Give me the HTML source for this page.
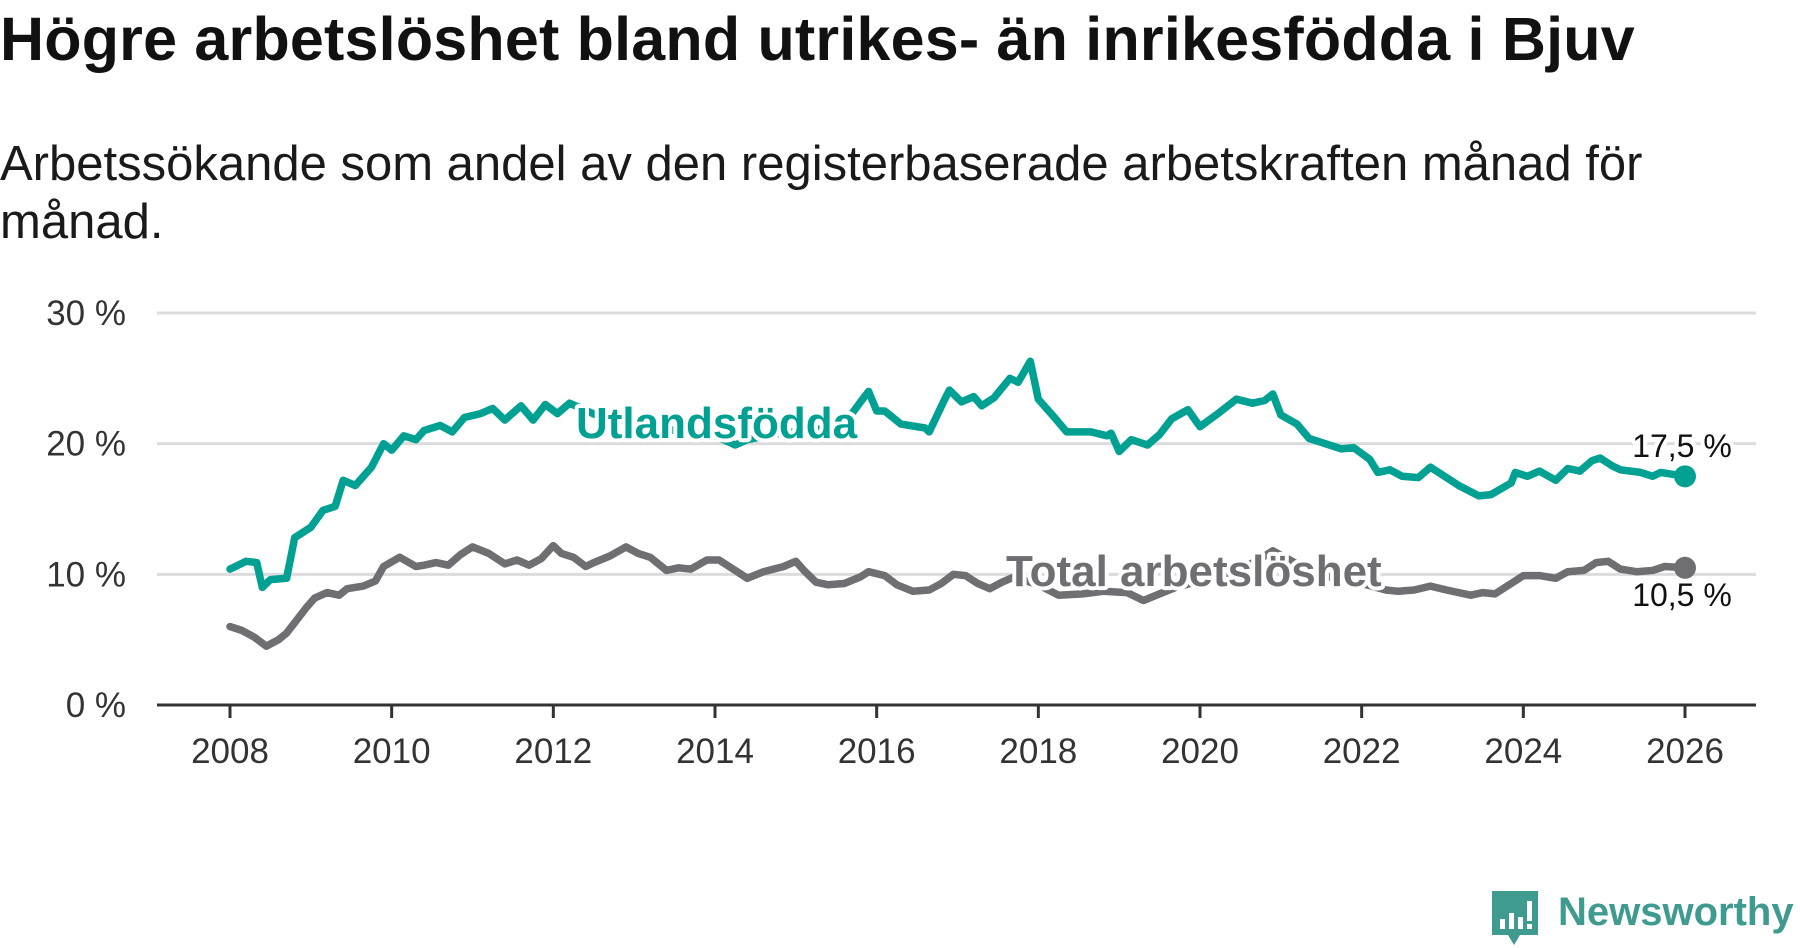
<!DOCTYPE html>
<html><head><meta charset="utf-8">
<style>
html,body{margin:0;padding:0;background:#fff;}
body{width:1800px;height:948px;overflow:hidden;position:relative;font-family:"Liberation Sans",sans-serif;color:#111;}
#title{position:absolute;left:0;top:4px;font-size:61px;font-weight:bold;white-space:nowrap;letter-spacing:0.2px;}
#subtitle{position:absolute;left:0;top:135px;font-size:49px;line-height:58px;width:1700px;color:#1a1a1a;}
svg{position:absolute;left:0;top:0;}
</style></head><body>
<div id="title">Högre arbetslöshet bland utrikes- än inrikesfödda i Bjuv</div>
<div id="subtitle">Arbetssökande som andel av den registerbaserade arbetskraften månad för månad.</div>
<svg id="chart" width="1800" height="948"></svg>
<script>
const foreignYears=[2008.0,2008.2,2008.33,2008.4,2008.5,2008.7,2008.8,2009.0,2009.15,2009.3,2009.4,2009.55,2009.75,2009.9,2010.0,2010.15,2010.3,2010.4,2010.6,2010.75,2010.9,2011.1,2011.25,2011.4,2011.6,2011.75,2011.9,2012.05,2012.2,2012.6,2013.0,2013.5,2014.0,2014.25,2014.4,2014.8,2015.2,2015.6,2015.8,2015.9,2016.0,2016.1,2016.3,2016.6,2016.65,2016.85,2016.9,2017.05,2017.2,2017.3,2017.45,2017.65,2017.75,2017.9,2018.0,2018.2,2018.35,2018.65,2018.85,2018.9,2019.0,2019.15,2019.35,2019.5,2019.65,2019.85,2020.0,2020.2,2020.45,2020.65,2020.8,2020.9,2021.0,2021.2,2021.35,2021.55,2021.75,2021.9,2022.1,2022.2,2022.35,2022.5,2022.7,2022.85,2022.95,2023.2,2023.45,2023.6,2023.85,2023.9,2024.05,2024.2,2024.4,2024.55,2024.7,2024.85,2024.95,2025.1,2025.2,2025.45,2025.6,2025.7,2026.0];
const foreignValues=[10.4,11.0,10.9,9.0,9.6,9.7,12.8,13.6,14.9,15.2,17.2,16.8,18.2,20.0,19.5,20.6,20.3,21.0,21.4,20.9,22.0,22.3,22.7,21.8,22.9,21.8,23.0,22.3,23.1,22.0,21.6,21.0,20.6,19.9,20.3,20.8,21.0,21.5,23.2,24.0,22.5,22.5,21.5,21.2,20.9,23.5,24.1,23.2,23.6,22.9,23.5,25.0,24.7,26.3,23.4,22.0,20.9,20.9,20.6,20.8,19.4,20.3,19.9,20.7,21.9,22.6,21.3,22.2,23.4,23.1,23.3,23.8,22.2,21.5,20.4,20.0,19.6,19.7,18.8,17.8,18.0,17.5,17.4,18.2,17.8,16.8,16.0,16.1,17.0,17.8,17.5,17.9,17.2,18.1,17.9,18.7,18.9,18.3,18.0,17.8,17.5,17.8,17.5];
const totalYears=[2008.0,2008.15,2008.3,2008.45,2008.6,2008.7,2008.8,2008.95,2009.05,2009.2,2009.35,2009.45,2009.65,2009.8,2009.9,2010.1,2010.3,2010.4,2010.55,2010.7,2010.85,2011.0,2011.2,2011.4,2011.55,2011.7,2011.85,2012.0,2012.1,2012.25,2012.4,2012.5,2012.7,2012.9,2013.05,2013.2,2013.4,2013.55,2013.7,2013.9,2014.05,2014.25,2014.4,2014.6,2014.85,2015.0,2015.1,2015.25,2015.4,2015.6,2015.8,2015.9,2016.1,2016.25,2016.45,2016.65,2016.8,2016.95,2017.1,2017.25,2017.4,2017.55,2017.7,2018.0,2018.25,2018.55,2018.8,2019.1,2019.3,2019.5,2019.7,2020.0,2020.3,2020.7,2020.9,2021.2,2021.6,2022.0,2022.3,2022.45,2022.65,2022.85,2023.05,2023.35,2023.5,2023.65,2023.85,2024.0,2024.2,2024.4,2024.55,2024.75,2024.9,2025.05,2025.2,2025.4,2025.6,2025.75,2026.0];
const totalValues=[6.0,5.7,5.2,4.5,5.0,5.5,6.3,7.5,8.2,8.6,8.4,8.9,9.1,9.5,10.6,11.3,10.6,10.7,10.9,10.7,11.5,12.1,11.6,10.8,11.1,10.7,11.2,12.2,11.6,11.3,10.6,10.9,11.4,12.1,11.6,11.3,10.3,10.5,10.4,11.1,11.1,10.3,9.7,10.2,10.6,11.0,10.3,9.4,9.2,9.3,9.8,10.2,9.9,9.2,8.7,8.8,9.3,10.0,9.9,9.3,8.9,9.4,9.8,9.2,8.4,8.5,8.7,8.6,8.0,8.5,9.0,9.5,10.0,11.0,11.8,10.8,9.8,9.3,8.8,8.7,8.8,9.1,8.8,8.4,8.6,8.5,9.3,9.9,9.9,9.7,10.2,10.3,10.9,11.0,10.4,10.2,10.3,10.6,10.5];
const yTicks=[0,10,20,30];
const yTickLabels=["0 %","10 %","20 %","30 %"];
const xTicks=[2008,2010,2012,2014,2016,2018,2020,2022,2024,2026];
const endLabels=["17,5 %","10,5 %"];

const NS="http://www.w3.org/2000/svg";
const svg=document.getElementById('chart');
const X0=157,X1=1756,Y0=705,Y30=313;
const xs=y=>230+(y-2008)*(1685-230)/18;
const ys=v=>Y0-(v/30)*(Y0-Y30);
function mk(tag,attrs){const e=document.createElementNS(NS,tag);for(const k in attrs)e.setAttribute(k,attrs[k]);svg.appendChild(e);return e;}

yTicks.forEach((t,i)=>{
  if(t>0){const g=mk('line',{x1:X0,x2:X1,y1:ys(t),y2:ys(t),stroke:'#dcdcdc','stroke-width':3});
  
  }
  const l=mk('text',{x:126,y:ys(t)+12,'text-anchor':'end','font-size':35,fill:'#333','font-family':'Liberation Sans, sans-serif'});
  l.textContent=yTickLabels[i];
  
  
});
const ax=mk('line',{x1:X0,x2:X1,y1:Y0,y2:Y0,stroke:'#333','stroke-width':3});


xTicks.forEach(t=>{
  const tk=mk('line',{x1:xs(t),x2:xs(t),y1:Y0,y2:Y0+13,stroke:'#333','stroke-width':3});
  
  
  const l=mk('text',{x:xs(t),y:763,'text-anchor':'middle','font-size':35,fill:'#333','font-family':'Liberation Sans, sans-serif'});
  l.textContent=t;
  
  
});
function line(yrs,vals,color,name){
  const d=yrs.map((y,i)=>(i?'L':'M')+xs(y).toFixed(1)+','+ys(vals[i]).toFixed(1)).join('');
  const p=mk('path',{d:d,fill:'none',stroke:color,'stroke-width':7.5,'stroke-linejoin':'round','stroke-linecap':'round'});
  
  
  const n=yrs.length-1;
  const c=mk('circle',{cx:xs(yrs[n]),cy:ys(vals[n]),r:11,fill:color});
  
  
}
line(totalYears,totalValues,'#6e6e73','total');
line(foreignYears,foreignValues,'#00a192','foreign');
function lab(txt,x,y,size,color,weight,name,anchor){
  const t=mk('text',{x:x,y:y,'font-size':size,fill:color,'font-weight':weight,'text-anchor':anchor||'start','font-family':'Liberation Sans, sans-serif',stroke:'#fff','stroke-width':8,'paint-order':'stroke','stroke-linejoin':'round'});
  t.textContent=txt;
  
  
}
lab('Utlandsfödda',576,438,44,'#00a192','bold','series-label-foreign');
lab('Total arbetslöshet',1006,586,44,'#6e6e73','bold','series-label-total');
lab(endLabels[0],1682,457,32,'#111','normal','end-label-foreign','middle');
lab(endLabels[1],1682,606,32,'#111','normal','end-label-total','middle');
</script>
<div style="position:absolute;left:1490px;top:889px;">
  <svg width="52" height="58" style="position:absolute;left:0;top:0">
    <path d="M2,2 H48 V46 H30 L24,56 L18,46 H2 Z" fill="#3f9a90"/>
    <rect x="10" y="30" width="5" height="10" fill="#fff"/><rect x="19" y="24" width="5" height="16" fill="#fff"/><rect x="28" y="28" width="5" height="12" fill="#fff"/><rect x="37" y="12" width="5" height="20" fill="#fff"/><rect x="37" y="35" width="5" height="5" fill="#fff"/>
  </svg>
  <div style="position:absolute;left:68px;top:1px;font-size:40px;font-weight:bold;color:#3f9a90;white-space:nowrap;">Newsworthy</div>
</div>
</body></html>
